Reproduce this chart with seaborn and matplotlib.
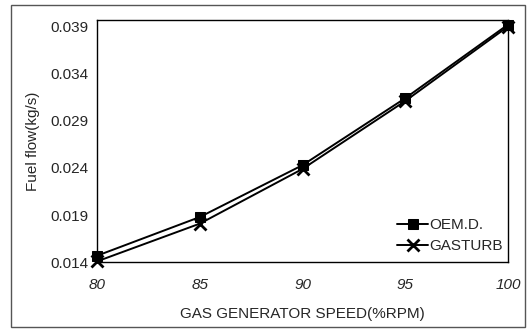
import numpy as np
import pandas as pd
import seaborn as sns
import matplotlib.pyplot as plt
from matplotlib.patches import Rectangle

speed = [80, 85, 90, 95, 100]
oem_flow = [0.0147, 0.0188, 0.0243, 0.0314, 0.0392]
gasturb_flow = [0.0141, 0.0181, 0.0239, 0.0311, 0.0390]
y_ticks = [0.014, 0.019, 0.024, 0.029, 0.034, 0.039]

sns.set_style("white")
plt.rcParams["font.family"] = ["Liberation Sans", "DejaVu Sans"]

fig, ax = plt.subplots(figsize=(5.28, 3.32), dpi=100)
fig.subplots_adjust(left=0.184, right=0.962, top=0.94, bottom=0.21)

# filled and line-art markers can't share one call, so one series each
sns.lineplot(x=speed, y=oem_flow, label="OEM.D.", color="black", marker="s",
             linewidth=1.4, markersize=6.5, markeredgecolor="black",
             clip_on=False, ax=ax)
sns.lineplot(x=speed, y=gasturb_flow, label="GASTURB", color="black", marker="x",
             linewidth=1.4, markersize=8, markeredgewidth=2,
             markeredgecolor="black", clip_on=False, ax=ax)

ax.set_xlim(80, 100)
ax.set_ylim(0.014, 0.0397)
ax.set_xticks(speed)
ax.set_yticks(y_ticks)
ax.set_xticklabels([str(s) for s in speed], fontstyle="italic", fontsize=11)
ax.set_yticklabels([f"{t:.3f}" for t in y_ticks], fontsize=11)
ax.tick_params(axis="both", length=3, direction="in", pad=6)
ax.tick_params(axis="x", pad=11)
for s in ax.spines.values():
    s.set_color("black")
    s.set_linewidth(1.0)

ax.set_xlabel("GAS GENERATOR SPEED(%RPM)", fontsize=11, labelpad=11)
ax.set_ylabel("Fuel flow(kg/s)", fontsize=11, labelpad=8)

ax.legend(loc="lower right", frameon=False, fontsize=11, labelspacing=0.45,
          handlelength=2.0, handletextpad=0.1, borderaxespad=0.2,
          bbox_to_anchor=(1.01, 0.0))

# outer chart border
fig.patches.append(Rectangle((0.02, 0.015), 0.975, 0.97, transform=fig.transFigure,
                             fill=False, edgecolor="#555555", linewidth=1.0))

fig.savefig("out.png", dpi=100)
